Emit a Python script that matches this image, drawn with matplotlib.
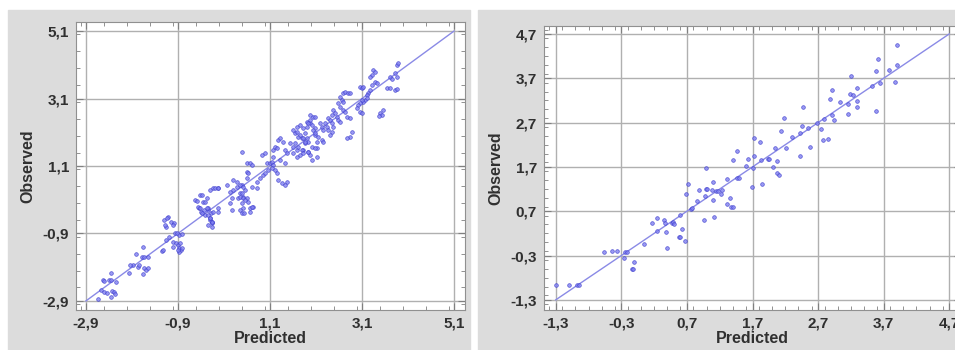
import matplotlib
matplotlib.use("Agg")
import matplotlib.pyplot as plt
from matplotlib.patches import Rectangle
from matplotlib.ticker import MultipleLocator

# ---- data ----
left_ticks = [-2.9, -0.9, 1.1, 3.1, 5.1]
left_labels = ["-2,9", "-0,9", "1,1", "3,1", "5,1"]
right_ticks = [-1.3, -0.3, 0.7, 1.7, 2.7, 3.7, 4.7]
right_labels = ["-1,3", "-0,3", "0,7", "1,7", "2,7", "3,7", "4,7"]

left_pts = [
    (-2.64, -2.84), (-2.57, -2.57), (-2.51, -2.63), (-2.44, -2.66), (-2.53, -2.28), (-2.51, -2.31),
    (-2.40, -2.28), (-2.36, -2.28), (-2.25, -2.34), (-2.36, -2.07), (-2.33, -2.60), (-2.29, -2.63),
    (-2.36, -2.78), (-2.27, -2.69), (-1.97, -2.07), (-1.88, -1.83), (-1.77, -1.89), (-1.75, -1.83),
    (-1.81, -1.51), (-1.68, -1.60), (-1.64, -1.60), (-1.55, -1.60), (-1.66, -1.30), (-1.64, -1.92),
    (-1.60, -1.98), (-1.55, -1.92), (-1.66, -2.10), (-1.25, -1.42), (-1.16, -1.09), (-1.10, -1.00),
    (-1.16, -0.71), (-1.20, -0.50), (-1.12, -0.41), (-1.05, -0.56), (-0.99, -0.59), (-0.97, -0.89),
    (-0.88, -0.94), (-0.81, -0.91), (-1.01, -1.15), (-0.94, -1.18), (-0.90, -1.24), (-0.88, -1.33),
    (-0.83, -1.39), (-0.88, -1.45), (-1.01, -1.30), (-0.44, -0.14), (-0.40, -0.26), (-0.33, -0.20),
    (-0.25, -0.20), (-0.18, -0.29), (-0.20, -0.50), (-0.16, -0.56), (-1.94, -1.83), (-1.14, -0.44),
    (-1.18, -0.65), (-1.01, -0.65), (-0.92, -0.89), (-0.86, -1.18), (-0.81, -1.33), (-1.23, -1.39),
    (-0.90, -1.39), (-0.53, 0.09), (-0.42, 0.24), (-0.36, 0.03), (-0.27, 0.15), (-0.25, -0.14),
    (-0.38, -0.29), (-0.31, -0.35), (-0.20, -0.44), (-0.16, -0.59), (-0.25, -0.65), (-0.03, -0.26),
    (-0.14, 0.45), (-0.03, 0.45), (-0.47, -0.11), (0.38, 0.63), (0.49, 0.54), (0.56, 0.39),
    (0.45, 0.30), (0.51, 0.18), (0.60, 0.15), (0.62, 0.03), (0.66, -0.14), (0.73, -0.11),
    (0.30, 0.39), (0.40, 0.15), (0.60, 0.74),
    (-0.49, 0.06), (-0.38, 0.24), (-0.31, 0.03), (-0.27, -0.14), (-0.42, -0.14), (-0.25, -0.35),
    (-0.20, -0.44), (-0.16, -0.56), (-0.16, -0.71), (-0.14, -0.26), (-0.10, 0.45), (-0.03, 0.45),
    (-0.20, 0.39), (-0.03, -0.14), (0.17, 0.54), (0.23, 0.33), (0.27, 0.15), (0.23, 0.00),
    (0.27, -0.20), (0.30, 0.69), (0.38, 0.48), (0.45, 0.54), (0.51, 0.48), (0.45, 0.18),
    (0.49, 0.30), (0.51, 0.15), (0.49, 0.00), (0.51, -0.14), (0.56, 0.09), (0.45, -0.20),
    (0.49, -0.29), (0.53, -0.29), (0.71, -0.11), (0.66, -0.26), (0.60, 1.19), (0.66, 1.19),
    (0.71, 1.13), (0.60, 0.92), (0.62, 0.89), (0.49, 1.51), (0.71, 0.48), (0.82, 0.63),
    (0.88, 0.74), (0.95, 0.83), (0.82, 0.45), (0.93, 1.43), (1.00, 1.48), (1.03, 1.19),
    (1.10, 1.19), (1.14, 1.22), (1.17, 1.13), (1.06, 0.98), (1.14, 1.04), (1.21, 0.98),
    (1.00, 0.89), (1.25, 0.89), (1.27, 0.69), (1.36, 0.60), (1.47, 0.63), (1.43, 0.54),
    (1.17, 1.57), (1.27, 1.87), (1.32, 1.93), (1.38, 1.81), (1.21, 1.66), (1.25, 1.63),
    (1.43, 1.57), (1.47, 1.48), (1.17, 1.37), (1.32, 1.28), (1.43, 1.19), (1.53, 1.78),
    (1.60, 1.66), (1.69, 1.57), (1.69, 2.26), (1.75, 2.31), (1.82, 2.23), (1.86, 2.08),
    (1.64, 2.08), (1.71, 1.96), (1.80, 1.93), (1.90, 1.93), (1.93, 1.81), (1.86, 1.78),
    (1.60, 1.48), (1.69, 1.37), (1.75, 1.43), (1.82, 1.57), (1.93, 1.51), (1.97, 1.43),
    (2.01, 1.28), (1.90, 2.40), (1.97, 2.37), (2.08, 2.23), (2.08, 2.02), (2.12, 1.81),
    (2.12, 1.63),
    (3.86, 4.09), (3.88, 4.15), (3.82, 3.86), (3.86, 3.74), (3.71, 3.74), (3.75, 3.68),
    (3.64, 3.41), (3.71, 3.41), (3.82, 3.35), (3.34, 3.94), (3.38, 3.88), (3.32, 3.80),
    (3.27, 3.74), (3.38, 3.59), (3.43, 3.56), (3.32, 3.50), (3.27, 3.35), (3.23, 3.26),
    (3.21, 3.20), (3.06, 3.44), (3.10, 3.41), (3.12, 3.44), (3.17, 3.06), (3.21, 3.11),
    (3.12, 3.00), (3.10, 3.06), (3.06, 2.97), (3.01, 2.91), (2.99, 2.82), (3.06, 2.70),
    (3.10, 2.67), (3.56, 2.76), (3.49, 2.67), (2.88, 2.11), (2.84, 1.96), (2.77, 1.93),
    (2.69, 3.26), (2.73, 3.29), (2.80, 3.26), (2.84, 3.26), (2.62, 3.14), (2.67, 3.06),
    (2.69, 3.00), (2.58, 2.97), (2.62, 2.85), (2.69, 2.76), (2.73, 2.70), (2.77, 2.55),
    (2.84, 2.52), (2.47, 2.76), (2.51, 2.67), (2.45, 2.61), (2.56, 2.55), (2.58, 2.46),
    (2.62, 2.40), (2.36, 2.52), (2.40, 2.46), (2.45, 2.37), (2.30, 2.37), (2.34, 2.26),
    (2.36, 2.17), (2.47, 2.26), (2.45, 2.11), (2.40, 2.02), (1.97, 2.61), (2.03, 2.55),
    (2.08, 2.55), (1.97, 2.46), (1.93, 2.37), (1.90, 2.26), (2.01, 2.31), (2.03, 2.17),
    (2.08, 2.08), (2.19, 2.37), (2.23, 2.26), (2.25, 2.17), (2.14, 1.96), (2.23, 1.87),
    (2.25, 1.81), (1.60, 2.17), (1.69, 2.11), (1.75, 2.02), (1.82, 1.93), (1.86, 1.81),
    (1.64, 1.78), (1.71, 1.66), (1.80, 1.57), (1.82, 1.48), (1.93, 1.51), (2.01, 1.66),
    (2.08, 1.63), (2.12, 1.37), (3.53, 2.61), (3.47, 2.58), (3.86, 3.38),
]

right_pts = [
    (3.91, 4.45), (3.62, 4.14), (3.59, 3.86), (3.78, 3.89), (3.91, 4.00), (3.65, 3.59),
    (3.88, 3.62), (3.52, 3.53), (3.58, 2.96), (3.20, 3.75), (2.91, 3.44), (2.88, 3.23),
    (3.04, 3.16), (3.18, 3.35), (3.29, 3.48), (3.24, 3.32), (3.30, 3.19), (3.30, 3.05),
    (3.15, 3.12), (3.15, 2.89), (2.92, 2.87), (2.95, 2.76), (2.79, 2.78), (2.68, 2.69),
    (2.75, 2.56), (2.77, 2.31), (2.85, 2.33), (2.47, 3.05), (2.45, 2.62), (2.54, 2.58),
    (2.42, 2.47), (2.57, 2.15), (2.42, 1.95), (2.31, 2.38), (2.14, 2.51), (2.18, 2.80),
    (2.21, 2.13), (2.04, 2.13), (1.73, 2.35), (1.81, 2.26), (1.72, 1.95), (1.83, 1.86),
    (1.93, 1.88), (1.95, 1.88), (1.63, 1.88), (1.46, 2.06), (1.41, 1.86), (1.60, 1.72),
    (2.07, 1.83), (2.02, 1.70), (2.08, 1.56), (2.11, 1.52), (1.70, 1.68), (0.99, 1.68),
    (-1.30, -0.97), (-1.10, -0.97), (-0.98, -0.97), (-0.95, -0.97), (-0.57, -0.22), (-0.45, -0.20),
    (-0.37, -0.20), (-0.25, -0.22), (-0.22, -0.22), (-0.26, -0.36), (-0.11, -0.45), (-0.14, -0.60),
    (-0.12, -0.60), (0.04, -0.04), (0.16, 0.43), (0.25, 0.55), (0.24, 0.25), (0.35, 0.50),
    (0.36, 0.43), (0.47, 0.43), (0.48, 0.45), (0.50, 0.41), (0.38, 0.23), (0.39, -0.13),
    (0.58, 0.12), (0.60, 0.12), (0.62, 0.30), (0.67, 0.03), (0.60, 0.61), (0.68, 1.09),
    (0.71, 1.31), (0.76, 0.75), (0.77, 0.77), (0.86, 0.93), (0.88, 1.18), (0.96, 0.50),
    (0.97, 1.04), (0.99, 1.20), (1.00, 1.20), (1.09, 1.36), (1.08, 1.18), (1.09, 0.95),
    (1.11, 0.57), (1.15, 1.16), (1.18, 1.16), (1.23, 1.18), (1.22, 1.09), (1.31, 0.86),
    (1.31, 1.43), (1.35, 1.00), (1.37, 0.80), (1.40, 0.80), (1.47, 1.45), (1.49, 1.45),
    (1.69, 1.25), (1.84, 1.31),
]

plt.rcParams['font.family'] = ['Liberation Sans', 'DejaVu Sans']

fig = plt.figure(figsize=(9.55, 3.5), dpi=100)
fig.patch.set_facecolor("white")
bg = "#dcdcdc"
fig.add_artist(Rectangle((8/955, 0), 462/955, 340/350, transform=fig.transFigure, color=bg, zorder=0))
fig.add_artist(Rectangle((478/955, 0), 477/955, 340/350, transform=fig.transFigure, color=bg, zorder=0))


def panel(rect, pts, ticks, labels, xlim, ylim, xminor, yminor):
    ax = fig.add_axes(rect)
    ax.set_facecolor("white")
    xs = [p[0] for p in pts]
    ys = [p[1] for p in pts]
    ax.plot([ticks[0], ticks[-1]], [ticks[0], ticks[-1]], color="#8a8ae6", lw=1, zorder=2)
    ax.scatter(xs, ys, s=7, facecolors="#8080f0", edgecolors="#3a3acc", linewidths=0.5,
               alpha=0.8, zorder=3)
    ax.set_xlim(*xlim)
    ax.set_ylim(*ylim)
    ax.set_xticks(ticks)
    ax.set_xticklabels(labels)
    ax.set_yticks(ticks)
    ax.set_yticklabels(labels)
    ax.xaxis.set_minor_locator(MultipleLocator(xminor))
    ax.yaxis.set_minor_locator(MultipleLocator(yminor))
    ax.grid(True, which="major", color="#b0b0b0", lw=1, zorder=1)
    ax.tick_params(which="both", direction="in", top=True, right=True, color="#808080")
    ax.tick_params(which="major", length=5, pad=5, labelsize=11, labelcolor="#303030")
    ax.tick_params(which="minor", length=3)
    for t in ax.get_xticklabels() + ax.get_yticklabels():
        t.set_fontweight("bold")
    for s in ax.spines.values():
        s.set_color("#909090")
    ax.set_xlabel("Predicted", fontsize=11.5, fontweight="bold", color="#303030", labelpad=0)
    ax.set_ylabel("Observed", fontsize=11.5, fontweight="bold", color="#303030", labelpad=5)
    return ax


panel([76/955, 40/350, 389/955, 288/350], left_pts, left_ticks, left_labels,
      (-3.117, 5.34), (-3.17, 5.37), 0.5, 0.5)
panel([544/955, 40/350, 417/955, 284/350], right_pts, right_ticks, right_labels,
      (-1.48, 4.88), (-1.53, 4.88), 0.2, 0.2)

fig.savefig("out.png", dpi=100, facecolor="white")
